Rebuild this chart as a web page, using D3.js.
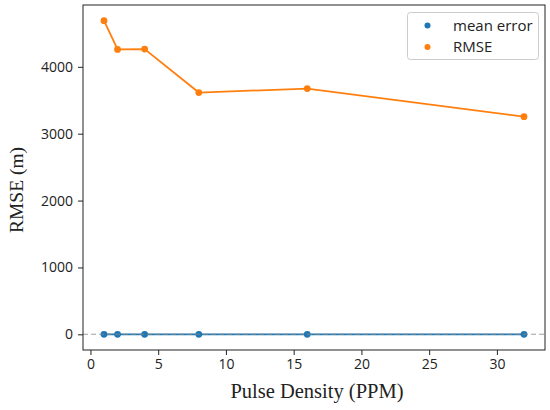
<!DOCTYPE html>
<html>
<head>
<meta charset="utf-8">
<script src="https://cdn.jsdelivr.net/npm/d3@7"></script>
<style>
  body { margin: 0; background: #fff; }
  svg { display: block; }
  .tick text { font-family: "Open Sans", sans-serif; font-size: 14px; fill: #222; }
</style>
</head>
<body>
<div id="chart"></div>
<script>
const density = [1, 2, 4, 8, 16, 32];
const meanError = [0, 0, 0, 0, 0, 0];
const rmse = [4690, 4260, 4265, 3615, 3675, 3255];
const xTicks = [0, 5, 10, 15, 20, 25, 30];
const yTicks = [0, 1000, 2000, 3000, 4000];

const width = 550;
const height = 410;
const margin = { top: 5, right: 5, bottom: 60, left: 83 };

const svg = d3.select("#chart").append("svg")
    .attr("width", width)
    .attr("height", height);

// matplotlib style 5% padding
const xExt = d3.extent(density);
const xPad = (xExt[1] - xExt[0]) * 0.05;
const yExt = d3.extent(meanError.concat(rmse));
const yPad = (yExt[1] - yExt[0]) * 0.05;

const x = d3.scaleLinear()
    .domain([xExt[0] - xPad, xExt[1] + xPad])
    .range([margin.left, width - margin.right]);

const y = d3.scaleLinear()
    .domain([yExt[0] - yPad, yExt[1] + yPad])
    .range([height - margin.bottom, margin.top]);

svg.append("g")
    .attr("transform", `translate(0,${height - margin.bottom})`)
    .call(d3.axisBottom(x).tickValues(xTicks).tickSize(5).tickPadding(4))
    .call(g => g.select(".domain").remove())
    .call(g => g.selectAll(".tick line").attr("stroke", "#222"));

svg.append("g")
    .attr("transform", `translate(${margin.left},0)`)
    .call(d3.axisLeft(y).tickValues(yTicks).tickFormat(d3.format("d")).tickSize(5).tickPadding(5))
    .call(g => g.select(".domain").remove())
    .call(g => g.selectAll(".tick line").attr("stroke", "#222"));

const series = [
    { name: "mean error", values: meanError, color: "#1f77b4" },
    { name: "RMSE", values: rmse, color: "#ff7f0e" }
];

const line = d3.line()
    .x(d => x(d[0]))
    .y(d => y(d[1]));

series.forEach(s => {
    const pts = density.map((d, i) => [d, s.values[i]]);
    svg.append("path")
        .attr("d", line(pts))
        .attr("fill", "none")
        .attr("stroke", s.color)
        .attr("stroke-width", 1.8);
    svg.append("g").selectAll("circle")
        .data(pts)
        .join("circle")
        .attr("cx", d => x(d[0]))
        .attr("cy", d => y(d[1]))
        .attr("r", 3.4)
        .attr("fill", s.color);
});

// zero reference line
svg.append("line")
    .attr("x1", margin.left)
    .attr("x2", width - margin.right)
    .attr("y1", y(0))
    .attr("y2", y(0))
    .attr("stroke", "#888")
    .attr("stroke-opacity", 0.8)
    .attr("stroke-width", 1.1)
    .attr("stroke-dasharray", "5,3");

// frame
svg.append("rect")
    .attr("x", margin.left)
    .attr("y", margin.top)
    .attr("width", width - margin.left - margin.right)
    .attr("height", height - margin.top - margin.bottom)
    .attr("fill", "none")
    .attr("stroke", "#222")
    .attr("stroke-width", 1);

// legend
const legend = svg.append("g");
legend.append("rect")
    .attr("x", 407.5)
    .attr("y", 12.5)
    .attr("width", 131)
    .attr("height", 47)
    .attr("rx", 3)
    .attr("fill", "#fff")
    .attr("fill-opacity", 0.8)
    .attr("stroke", "#ccc");

series.forEach((s, i) => {
    legend.append("circle")
        .attr("cx", 427.5)
        .attr("cy", 25.5 + i * 21.5)
        .attr("r", 3)
        .attr("fill", s.color);
    legend.append("text")
        .attr("x", 453)
        .attr("y", 30.5 + i * 21.5)
        .attr("font-family", "Open Sans, sans-serif")
        .attr("font-size", 15)
        .attr("fill", "#222")
        .text(s.name);
});

// axis labels
svg.append("text")
    .attr("x", (margin.left + width - margin.right) / 2 + 3)
    .attr("y", 398)
    .attr("text-anchor", "middle")
    .attr("font-family", "Liberation Serif, serif")
    .attr("font-size", 20.5)
    .attr("fill", "#222")
    .text("Pulse Density (PPM)");

svg.append("text")
    .attr("transform", "translate(23,190) rotate(-90)")
    .attr("text-anchor", "middle")
    .attr("font-family", "Liberation Serif, serif")
    .attr("font-size", 19.5)
    .attr("fill", "#222")
    .text("RMSE (m)");
</script>
</body>
</html>
